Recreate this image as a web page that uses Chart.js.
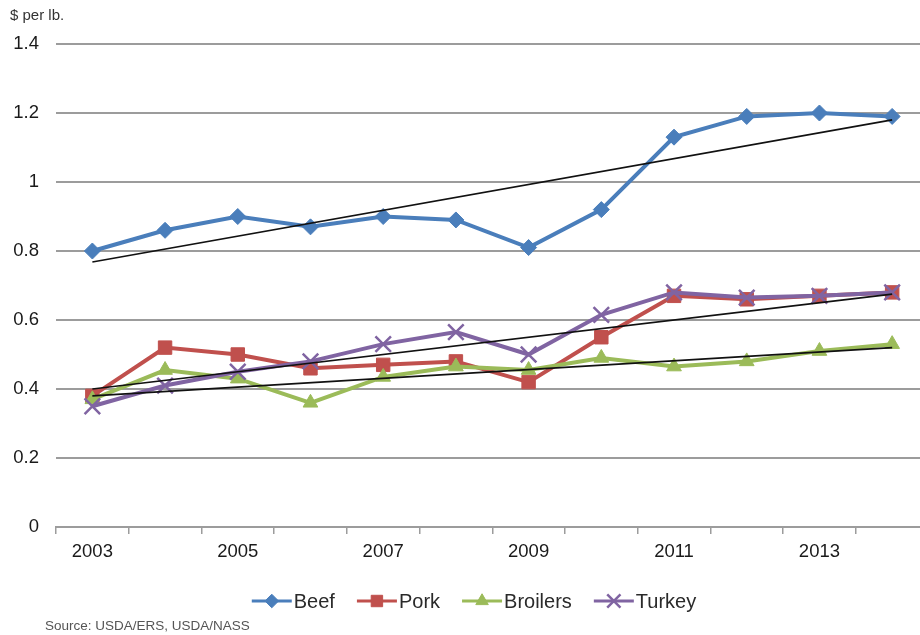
<!DOCTYPE html>
<html>
<head>
<meta charset="utf-8">
<script src="https://cdn.jsdelivr.net/npm/chart.js@4.4.1/dist/chart.umd.min.js"></script>
<style>
    html, body { margin: 0; padding: 0; background: #fff; overflow: hidden; }
    #wrap { width: 920px; height: 635px; overflow: hidden; }
</style>
</head>
<body>
<div id="wrap"><canvas id="canvas" width="942" height="635"></canvas></div>
<script>
const years = ["2003", "2004", "2005", "2006", "2007", "2008", "2009", "2010", "2011", "2012", "2013", "2014"];

const beef     = [0.80, 0.86, 0.90, 0.87, 0.90, 0.89, 0.81, 0.92, 1.13, 1.19, 1.20, 1.19];
const pork     = [0.38, 0.52, 0.50, 0.46, 0.47, 0.48, 0.42, 0.55, 0.67, 0.66, 0.67, 0.68];
const broilers = [0.37, 0.455, 0.43, 0.36, 0.435, 0.465, 0.455, 0.49, 0.465, 0.48, 0.51, 0.53];
const turkey   = [0.35, 0.41, 0.45, 0.48, 0.53, 0.565, 0.50, 0.615, 0.68, 0.665, 0.67, 0.68];

// linear trends: only the end points, joined by spanGaps
const beefTrend     = [0.768, null, null, null, null, null, null, null, null, null, null, 1.18];
const turkeyTrend   = [0.40, null, null, null, null, null, null, null, null, null, null, 0.675];
const broilersTrend = [0.38, null, null, null, null, null, null, null, null, null, null, 0.52];

const yTicks = [0, 0.2, 0.4, 0.6, 0.8, 1, 1.2, 1.4];

const FONT = "'Liberation Sans', Arial, sans-serif";
const GRID = "#9c9c9c";

function series(label, data, color, pointStyle, radius, order) {
    return {
        label,
        data,
        borderColor: color,
        backgroundColor: color,
        borderWidth: 4,
        pointStyle,
        pointRadius: radius,
        pointBorderWidth: pointStyle === "crossRot" ? 2.5 : 1,
        pointBackgroundColor: color,
        pointBorderColor: color,
        tension: 0,
        order,
    };
}

function trend(data) {
    return {
        label: "",
        data,
        isTrend: true,
        borderColor: "#111",
        borderWidth: 1.6,
        pointRadius: 0,
        spanGaps: true,
        order: 0,
    };
}

// Legend with a line sample and marker, drawn under the axis
const lineLegend = {
    id: "lineLegend",
    afterDraw(chart) {
        const { ctx } = chart;
        const items = chart.data.datasets.filter((d) => !d.isTrend);
        ctx.save();
        ctx.font = "20px " + FONT;
        const sample = 40;
        const gap = 22;
        const widths = items.map((d) => sample + 2 + ctx.measureText(d.label).width);
        const total = widths.reduce((a, b) => a + b, 0) + gap * (items.length - 1);
        let x = 474 - total / 2;
        const y = 601;
        items.forEach((d, i) => {
            ctx.strokeStyle = d.borderColor;
            ctx.lineWidth = 3;
            ctx.beginPath();
            ctx.moveTo(x, y);
            ctx.lineTo(x + sample, y);
            ctx.stroke();
            ctx.fillStyle = d.borderColor;
            ctx.lineWidth = d.pointBorderWidth;
            Chart.helpers.drawPoint(ctx, {
                pointStyle: d.pointStyle,
                radius: d.pointRadius * 0.85,
                rotation: 0,
                borderWidth: d.pointBorderWidth,
            }, x + sample / 2, y);
            ctx.fillStyle = "#2a2a2a";
            ctx.textBaseline = "middle";
            ctx.textAlign = "left";
            ctx.fillText(d.label, x + sample + 2, y + 1);
            x += widths[i] + gap;
        });

        // unit label and source note
        ctx.fillStyle = "#333";
        ctx.font = "15px " + FONT;
        ctx.textBaseline = "middle";
        ctx.fillText("$ per lb.", 10, 16);
        ctx.fillStyle = "#555";
        ctx.font = "13.5px " + FONT;
        ctx.fillText("Source: USDA/ERS, USDA/NASS", 45, 626);
        ctx.restore();
    },
};

new Chart(document.getElementById("canvas"), {
    type: "line",
    data: {
        labels: years,
        datasets: [
            trend(beefTrend),
            trend(turkeyTrend),
            trend(broilersTrend),
            series("Beef", beef, "#4a7ebb", "rectRot", 8, 4),
            series("Pork", pork, "#c0504d", "rect", 9.5, 3),
            series("Broilers", broilers, "#9bbb59", "triangle", 8.5, 2),
            series("Turkey", turkey, "#8064a2", "crossRot", 11, 1),
        ],
    },
    options: {
        responsive: false,
        animation: false,
        layout: { padding: { top: 44, left: 0, right: 0, bottom: 0 } },
        plugins: {
            legend: { display: false },
            tooltip: { enabled: false },
        },
        scales: {
            x: {
                offset: true,
                afterFit: (scale) => { scale.height = 108; },
                border: { display: true, color: GRID, width: 2 },
                grid: {
                    offset: true,
                    drawOnChartArea: false,
                    drawTicks: true,
                    tickLength: 7,
                    color: GRID,
                    lineWidth: 1.5,
                },
                ticks: {
                    autoSkip: false,
                    maxRotation: 0,
                    padding: 7,
                    color: "#1a1a1a",
                    font: { family: FONT, size: 18.5 },
                    callback: (value, index) => (index % 2 === 0 ? years[index] : ""),
                },
            },
            y: {
                min: 0,
                max: 1.4,
                afterFit: (scale) => { scale.width = 56; },
                afterBuildTicks: (scale) => { scale.ticks = yTicks.map((v) => ({ value: v })); },
                border: { display: false },
                grid: { color: GRID, lineWidth: 2, drawTicks: false },
                ticks: {
                    padding: 17,
                    color: "#1a1a1a",
                    font: { family: FONT, size: 18.5 },
                    callback: (v) => String(Math.round(v * 10) / 10),
                },
            },
        },
    },
    plugins: [lineLegend],
});
</script>
</body>
</html>
